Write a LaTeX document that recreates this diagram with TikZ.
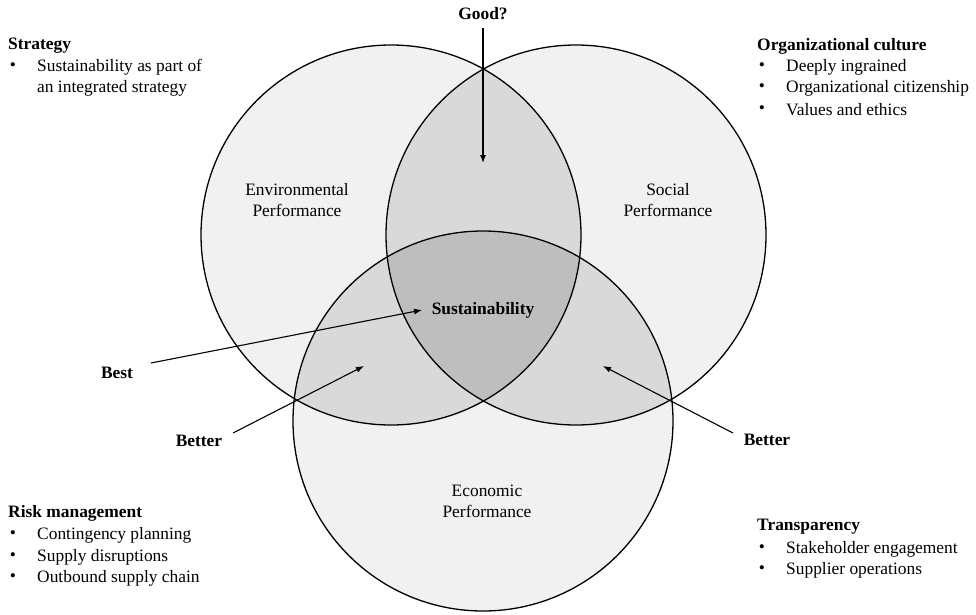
\documentclass[tikz,border=0pt]{standalone}
\usepackage{fontspec}
\setmainfont{Liberation Serif}
\usetikzlibrary{arrows.meta}
\definecolor{one}{HTML}{F1F1F1}
\definecolor{two}{HTML}{D9D9D9}
\definecolor{three}{HTML}{BEBEBE}
\tikzset{
  txt/.style={inner sep=0pt, font=\fontsize{17.4}{21}\selectfont},
  bold/.style={txt, font=\fontsize{17.4}{21}\selectfont\bfseries},
  item/.style={txt, anchor=west},
  bul/.style={txt, anchor=center},
  head/.style={bold, anchor=west},
  ring/.style={draw=black, line width=1.3pt},
  arr/.style={draw=black, line width=1.1pt, -{Latex[length=8pt,width=6pt]}},
}
\begin{document}
\begin{tikzpicture}[x=1pt,y=-1pt]
\useasboundingbox (0,0) rectangle (976,615);
\coordinate (cL) at (391,235);
\coordinate (cR) at (576,235);
\coordinate (cB) at (483,421);
\def\rr{190pt}
% fills
\fill[one] (cL) circle[radius=\rr];
\fill[one] (cR) circle[radius=\rr];
\fill[one] (cB) circle[radius=\rr];
\begin{scope}
  \clip (cL) circle[radius=\rr];
  \fill[two] (cR) circle[radius=\rr];
  \fill[two] (cB) circle[radius=\rr];
\end{scope}
\begin{scope}
  \clip (cR) circle[radius=\rr];
  \fill[two] (cB) circle[radius=\rr];
\end{scope}
\begin{scope}
  \clip (cL) circle[radius=\rr];
  \clip (cR) circle[radius=\rr];
  \fill[three] (cB) circle[radius=\rr];
\end{scope}
\draw[ring] (cL) circle[radius=\rr];
\draw[ring] (cR) circle[radius=\rr];
\draw[ring] (cB) circle[radius=\rr];

% circle labels
\node[txt, align=center] (env) at (297,200) {Environmental\\Performance};
\node[txt, align=center] (soc) at (668,200) {Social\\Performance};
\node[txt, align=center] (eco) at (487,501) {Economic\\Performance};
\node[bold] (sus) at (483,310) {Sustainability};

% arrows
\node[bold] (good) at (483,14) {Good?};
\coordinate (goodS) at (483,28);
\coordinate (goodE) at (483,163);
\draw[arr] (goodS) -- (goodE);

\node[bold] (best) at (117,373) {Best};
\coordinate (bestS) at (151,363);
\coordinate (bestE) at (422,310);
\draw[arr] (bestS) -- (bestE);

\node[bold] (betL) at (199,441) {Better};
\coordinate (betLS) at (233,433);
\coordinate (betLE) at (364,366);
\draw[arr] (betLS) -- (betLE);

\node[bold] (betR) at (767,440) {Better};
\coordinate (betRS) at (733,433);
\coordinate (betRE) at (603,366);
\draw[arr] (betRS) -- (betRE);

% Strategy
\node[head] (st) at (8,46) {Strategy};
\node[bul] (st1b) at (13,67) {•};
\node[item] (st1) at (37,67) {Sustainability as part of};
\node[item] (st2) at (37,88) {an integrated strategy};

% Organizational culture
\node[head] (oc) at (757,46) {Organizational culture};
\node[bul] (oc1b) at (762,67) {•};
\node[item] (oc1) at (786,67) {Deeply ingrained};
\node[bul] (oc2b) at (762,88) {•};
\node[item] (oc2) at (786,88) {Organizational citizenship};
\node[bul] (oc3b) at (762,110) {•};
\node[item] (oc3) at (786,110) {Values and ethics};

% Risk management
\node[head] (rm) at (8,513) {Risk management};
\node[bul] (rm1b) at (13,535) {•};
\node[item] (rm1) at (37,535) {Contingency planning};
\node[bul] (rm2b) at (13,557) {•};
\node[item] (rm2) at (37,557) {Supply disruptions};
\node[bul] (rm3b) at (13,578) {•};
\node[item] (rm3) at (37,578) {Outbound supply chain};

% Transparency
\node[head] (tr) at (757,527) {Transparency};
\node[bul] (tr1b) at (762,549) {•};
\node[item] (tr1) at (786,549) {Stakeholder engagement};
\node[bul] (tr2b) at (762,570) {•};
\node[item] (tr2) at (786,570) {Supplier operations};
\end{tikzpicture}
\end{document}
